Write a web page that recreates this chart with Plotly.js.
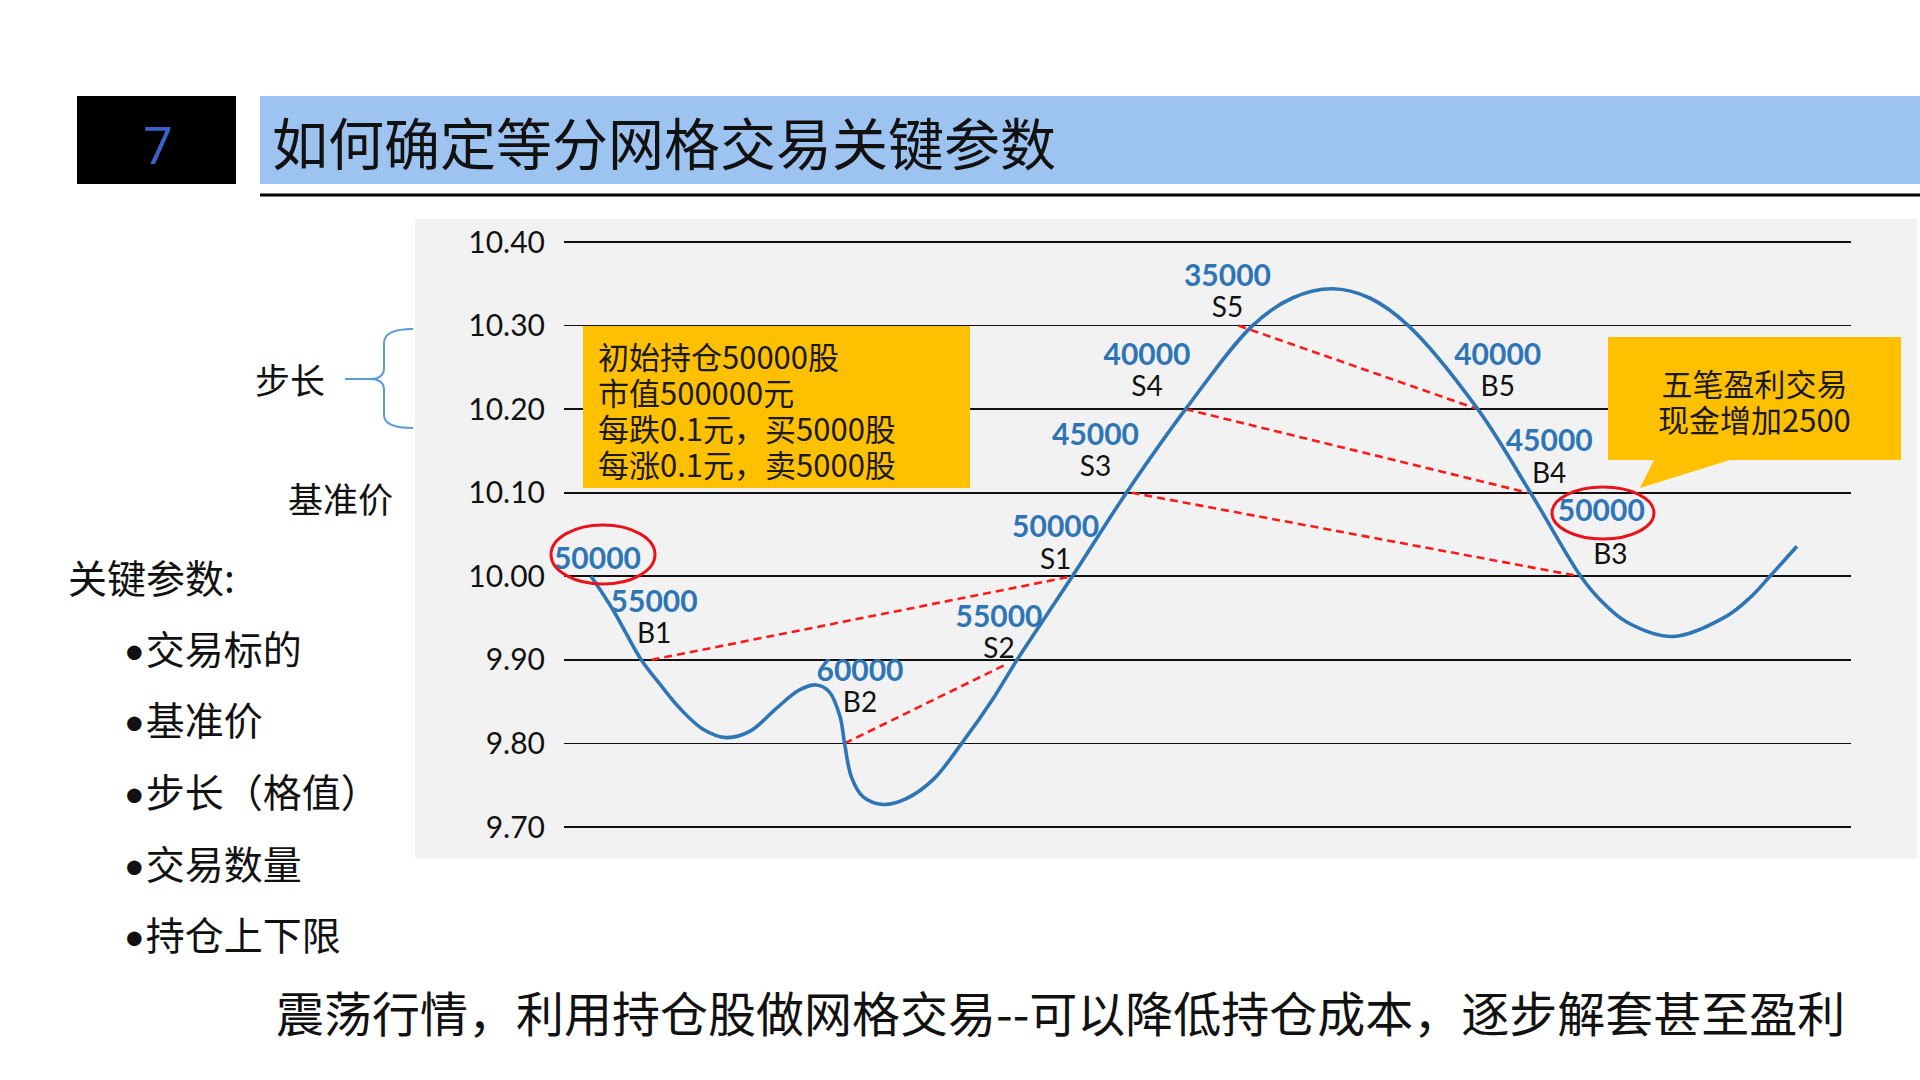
<!DOCTYPE html>
<html>
<head>
<meta charset="utf-8">
<script src="https://cdn.plot.ly/plotly-3.0.1.min.js"></script>
<style>
html,body{margin:0;padding:0;background:#fff;}
#chart{width:1920px;height:1080px;}
</style>
</head>
<body>
<div id="chart"></div>
<script>
// ---------- data ----------
const tickVals = [9.70, 9.80, 9.90, 10.00, 10.10, 10.20, 10.30, 10.40];
const tickText = ['9.70', '9.80', '9.90', '10.00', '10.10', '10.20', '10.30', '10.40'];

// price path (time index, price)
const priceT = [2.1, 3.8, 6.0, 7.5, 9.0, 10.8, 12.6, 14.5, 16.5, 18.3, 19.6, 20.6, 21.45, 21.8, 22.35, 23.25, 24.8, 26.6, 28.7, 30.9, 33.4, 35.2, 39.5, 43.7, 48.3, 53.5, 56.6, 59.7, 62.6, 65.6, 71.0, 75.1, 79.0, 80.5, 82.6, 86.2, 90.3, 92.2, 93.7, 95.8];
const priceV = [10.00, 9.96, 9.90, 9.870, 9.842, 9.817, 9.807, 9.815, 9.842, 9.864, 9.870, 9.862, 9.832, 9.80, 9.759, 9.736, 9.727, 9.734, 9.757, 9.80, 9.855, 9.90, 10.00, 10.10, 10.20, 10.30, 10.333, 10.344, 10.333, 10.30, 10.20, 10.10, 10.00, 9.972, 9.945, 9.928, 9.952, 9.975, 10.00, 10.036];

// paired trades (dashed links: buy/sell grid pairs)
const pairFromT = [6.8, 21.8, 44.1, 48.3, 52.4];
const pairFromV = [9.90, 9.80, 10.10, 10.20, 10.30];
const pairToT = [39.5, 34.4, 78.9, 74.9, 71.0];
const pairToV = [10.00, 9.895, 10.00, 10.10, 10.20];

// trade labels: holdings after trade + trade tag
const tradeHold = ['55000', '60000', '55000', '50000', '45000', '40000', '35000', '40000', '45000'];
const tradeTag = ['B1', 'B2', 'S2', 'S1', 'S3', 'S4', 'S5', 'B5', 'B4'];
const tradeT = [7.0, 23.0, 33.8, 38.2, 41.3, 45.3, 51.55, 72.55, 76.55];
const tradeV = [9.946, 9.863, 9.928, 10.035, 10.146, 10.241, 10.336, 10.241, 10.138];

// circled holdings (start and B3) and the B3 tag
const circHold = ['50000', '50000'];
const circT = [2.6, 80.6];
const circV = [10.018, 10.075];
const b3Tag = ['B3'];
const b3T = [81.3];
const b3V = [10.023];

const boxLines = ['初始持仓50000股', '市值500000元', '每跌0.1元，买5000股', '每涨0.1元，卖5000股'];
const calloutLines = ['五笔盈利交易', '现金增加2500'];
const sideList = ['交易标的', '基准价', '步长（格值）', '交易数量', '持仓上下限'];

// ---------- helpers ----------
const W = 1920, H = 1080;
const px = x => x / W;
const py = y => 1 - y / H;
const P = (x, y) => px(x).toFixed(5) + ',' + py(y).toFixed(5);
const CJK = '"Noto Sans CJK SC", "Noto Sans", sans-serif';
const NUM = 'Lato, "Open Sans", sans-serif';
const BLUE = '#2e75b6';

// ---------- traces ----------
const traces = [];
for (let i = 0; i < pairFromT.length; i++) {
  traces.push({
    x: [pairFromT[i], pairToT[i]], y: [pairFromV[i], pairToV[i]],
    mode: 'lines', type: 'scatter', hoverinfo: 'skip', showlegend: false,
    line: {color: '#ff1a1a', width: 2.6, dash: '8px,5px'}
  });
}
traces.push({
  x: priceT, y: priceV, mode: 'lines', type: 'scatter', showlegend: false,
  line: {color: BLUE, width: 3.6, shape: 'spline', smoothing: 1.0}
});
traces.push({
  x: tradeT, y: tradeV, mode: 'text', type: 'scatter', showlegend: false,
  text: tradeHold.map((h, i) =>
    '<span style="font-size:30px;color:' + BLUE + ';font-weight:bold">' + h + '</span><br>' +
    '<span style="font-size:28px">' + tradeTag[i] + '</span>'),
  textposition: 'middle center', cliponaxis: false,
  textfont: {family: NUM, size: 24, color: '#111'}
});
traces.push({
  x: circT, y: circV, text: circHold, mode: 'text', type: 'scatter', showlegend: false,
  textposition: 'middle center', cliponaxis: false,
  textfont: {family: NUM, size: 30, color: BLUE, weight: 'bold'}
});
traces.push({
  x: b3T, y: b3V, text: b3Tag, mode: 'text', type: 'scatter', showlegend: false,
  textposition: 'middle center', cliponaxis: false,
  textfont: {family: NUM, size: 28, color: '#111'}
});

// ---------- shapes ----------
const shapes = [
  {type: 'rect', xref: 'paper', yref: 'paper', x0: px(415), x1: px(1917), y0: py(859), y1: py(219),
   fillcolor: '#f2f2f2', line: {width: 0}, layer: 'below'},
  {type: 'rect', xref: 'paper', yref: 'paper', x0: px(77), x1: px(236), y0: py(184), y1: py(96),
   fillcolor: '#000000', line: {width: 0}, layer: 'below'},
  {type: 'rect', xref: 'paper', yref: 'paper', x0: px(260), x1: px(1920), y0: py(184), y1: py(96),
   fillcolor: '#9dc3f0', line: {width: 0}, layer: 'below'},
  {type: 'line', xref: 'paper', yref: 'paper', x0: px(260), x1: px(1920), y0: py(195), y1: py(195),
   line: {color: '#000', width: 3}},
  // brace
  {type: 'path', xref: 'paper', yref: 'paper', line: {color: '#5b9bd5', width: 2},
   path: 'M' + P(413, 329) + ' Q' + P(384, 329) + ' ' + P(384, 343) + ' L' + P(384, 368) +
         ' Q' + P(384, 379) + ' ' + P(370, 379) + ' Q' + P(384, 379) + ' ' + P(384, 390) + ' L' + P(384, 415) +
         ' Q' + P(384, 428) + ' ' + P(413, 428) + ' M' + P(345, 379) + ' L' + P(370, 379)},
  // yellow info box
  {type: 'rect', xref: 'paper', yref: 'paper', x0: px(583), x1: px(970), y0: py(488), y1: py(326),
   fillcolor: '#ffc000', line: {width: 0}, layer: 'above'},
  // callout
  {type: 'path', xref: 'paper', yref: 'paper', fillcolor: '#ffc000', line: {width: 0}, layer: 'above',
   path: 'M' + P(1608, 337) + ' L' + P(1901, 337) + ' L' + P(1901, 460) + ' L' + P(1730, 460) +
         ' L' + P(1640, 488) + ' L' + P(1654, 460) + ' L' + P(1608, 460) + ' Z'},
  // red ellipses
  {type: 'circle', xref: 'paper', yref: 'paper', x0: px(551), x1: px(655), y0: py(584), y1: py(525),
   line: {color: '#e8141c', width: 3}, layer: 'above'},
  {type: 'circle', xref: 'paper', yref: 'paper', x0: px(1552), x1: px(1654), y0: py(539), y1: py(487),
   line: {color: '#e8141c', width: 3}, layer: 'above'}
];

// ---------- annotations ----------
const ann = [];
function txt(s, x, y, size, opts) {
  opts = opts || {};
  ann.push({text: s, xref: 'paper', yref: 'paper', x: px(x), y: py(y),
    xanchor: opts.xa || 'left', yanchor: 'middle', showarrow: false, align: opts.align || 'left',
    font: {family: opts.family || CJK, size: size, color: opts.color || '#111'}});
}
txt('7', 158, 143, 52, {xa: 'center', family: '"Open Sans", sans-serif', color: '#3a62c8'});
txt('如何确定等分网格交易关键参数', 270, 140, 56, {color: '#111'});
txt('步长', 290, 379, 35, {xa: 'center'});
txt('基准价', 340, 497, 35, {xa: 'center'});
txt('关键参数:', 66, 576, 39);
const sideY = [647, 718, 790, 862, 933];
sideList.forEach((s, i) => txt('<span style="font-family:Lato">•</span>' + s, 121, sideY[i], 39));
// multi-line boxes: base size sets the line pitch, spans set the glyph size
txt(boxLines.map(s => '<span style="font-size:31px">' + s + '</span>').join('<br>'), 596, 409, 27.7, {color: '#1a1a1a'});
txt(calloutLines.map(s => '<span style="font-size:31px">' + s + '</span>').join('<br>'), 1754, 401, 27.7,
    {xa: 'center', align: 'center', color: '#1a1a1a'});
txt('震荡行情，利用持仓股做网格交易--可以降低持仓成本，逐步解套甚至盈利', 274, 1011, 48, {color: '#111'});

// ---------- layout ----------
const yLo = 9.69, yHi = 10.41;
const pxPerUnit = (827 - 242) / 0.7;
const yTopPx = 242 - (yHi - 10.40) * pxPerUnit;
const yBotPx = 827 + (9.70 - yLo) * pxPerUnit;

const layout = {
  width: W, height: H,
  margin: {l: 0, r: 0, t: 0, b: 0, pad: 0},
  paper_bgcolor: '#ffffff', plot_bgcolor: 'rgba(0,0,0,0)',
  showlegend: false,
  xaxis: {domain: [px(564), px(1851)], range: [0, 100], showgrid: false, zeroline: false,
          showticklabels: false, ticks: '', showline: false, fixedrange: true},
  yaxis: {domain: [py(yBotPx), py(yTopPx)], range: [yLo, yHi], tickvals: tickVals, ticktext: tickText,
          showgrid: true, gridcolor: '#111', gridwidth: 1.6, zeroline: false, showline: false, ticks: '',
          ticklabelstandoff: 18, tickfont: {family: NUM, size: 30, color: '#111'}, fixedrange: true},
  shapes: shapes,
  annotations: ann
};

Plotly.newPlot('chart', traces, layout, {displayModeBar: false, staticPlot: true});
</script>
</body>
</html>
